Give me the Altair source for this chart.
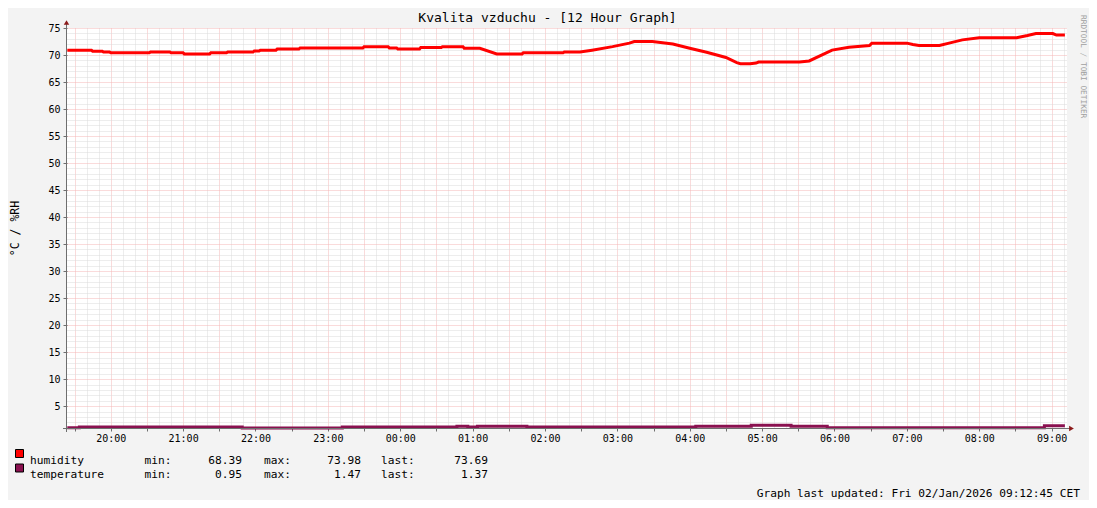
import altair as alt
import pandas as pd
from datetime import datetime, timedelta, timezone

# ---------------- texts ----------------
TITLE = "Kvalita vzduchu - [12 Hour Graph]"
Y_TITLE = "°C / %RH"
WATERMARK = "RRDTOOL / TOBI OETIKER"
FOOTER = "Graph last updated: Fri 02/Jan/2026 09:12:45 CET"

# ---------------- legend ----------------
SERIES = ["humidity", "temperature"]
COLORS = ["#FF0000", "#8A1150"]
STAT_MIN = ["68.39", "0.95"]
STAT_MAX = ["73.98", "1.47"]
STAT_LAST = ["73.69", "1.37"]

# ---------------- data ----------------
HUM_TIMES = ["19:24", "19:44", "19:45", "19:53", "19:54", "19:59", "20:00", "20:32",
             "20:33", "20:49", "20:50", "21:00", "21:01", "21:22", "21:23", "21:36",
             "21:37", "21:58", "21:59", "22:03", "22:04", "22:17", "22:18", "22:36",
             "22:37", "23:29", "23:30", "23:50", "23:51", "23:57", "23:58", "00:16",
             "00:17", "00:34", "00:35", "00:52", "00:53", "01:06", "01:20", "01:41",
             "01:42", "02:15", "02:16", "02:29", "02:39", "02:56", "03:10", "03:14",
             "03:29", "03:46", "04:00", "04:14", "04:30", "04:39", "04:42", "04:50",
             "04:55", "04:57", "05:31", "05:39", "05:58", "06:12", "06:29", "06:31",
             "07:00", "07:05", "07:10", "07:27", "07:35", "07:46", "08:00", "08:31",
             "08:40", "08:47", "09:01", "09:04", "09:11"]
HUM_VALUES = [70.9, 70.9, 70.7, 70.7, 70.55, 70.55, 70.4, 70.4,
              70.55, 70.55, 70.4, 70.4, 70.2, 70.2, 70.4, 70.4,
              70.55, 70.55, 70.75, 70.75, 70.9, 70.9, 71.1, 71.1,
              71.3, 71.3, 71.55, 71.55, 71.3, 71.3, 71.1, 71.1,
              71.4, 71.4, 71.55, 71.55, 71.25, 71.25, 70.2, 70.2,
              70.4, 70.4, 70.55, 70.55, 70.9, 71.55, 72.2, 72.5,
              72.5, 72.05, 71.25, 70.5, 69.55, 68.6, 68.39, 68.39,
              68.5, 68.7, 68.7, 68.9, 70.9, 71.45, 71.75, 72.2,
              72.2, 71.95, 71.75, 71.75, 72.2, 72.8, 73.2, 73.2,
              73.6, 73.98, 73.98, 73.69, 73.69]

TEMP_TIMES = ["19:24", "19:34", "21:49", "23:12", "00:47", "00:56", "01:04", "01:45",
              "04:05", "04:51", "05:24", "05:54", "08:54", "09:11"]
TEMP_VALUES = [1.0, 1.14, 0.95, 1.14, 1.28, 1.14, 1.28, 1.12,
               1.28, 1.47, 1.28, 1.0, 1.37, 1.37]

Y_DOMAIN = [0.95, 75]
FONT = "DejaVu Sans Mono"


def iso(hhmm):
    h = int(hhmm[:2])
    day = 1 if h >= 12 else 2
    return f"2026-01-0{day}T{hhmm}:00Z"


def ms(dt):
    return int(dt.timestamp() * 1000)


X_START = datetime(2026, 1, 1, 19, 23, 45, tzinfo=timezone.utc)
X_END = datetime(2026, 1, 2, 9, 12, 45, tzinfo=timezone.utc)
tick0 = datetime(2026, 1, 1, 19, 30, tzinfo=timezone.utc)
X_TICKS = [ms(tick0 + timedelta(minutes=10 * i)) for i in range(83)]
Y_TICKS = list(range(1, 76))

hum = pd.DataFrame({"t": [iso(t) for t in HUM_TIMES], "v": HUM_VALUES})
temp = pd.DataFrame({"t": [iso(t) for t in TEMP_TIMES], "v": TEMP_VALUES})

MAJ_GRID = "#F5B6B6"
MIN_GRID = "#DADADA"
AXIS_COL = "#6E6E6E"
ARROW_COL = "#8B1A1A"

x_axis = alt.Axis(
    values=X_TICKS, title=None, domain=False,
    labelExpr="utcminutes(datum.value) === 0 ? utcFormat(datum.value, '%H:%M') : ''",
    labelFont=FONT, labelFontSize=10, labelColor="#000000", labelPadding=2,
    labelFlush=False, labelOverlap=False, labelBound=False,
    tickSize=3, tickColor=AXIS_COL,
    tickOpacity={"condition": {"test": "utcminutes(datum.value) % 30 === 0", "value": 1}, "value": 0},
    grid=True,
    gridColor={"condition": {"test": "utcminutes(datum.value) % 30 === 0", "value": MAJ_GRID}, "value": MIN_GRID},
    gridDash=[1, 1], gridWidth=1,
)

y_axis = alt.Axis(
    values=Y_TICKS, title=Y_TITLE, domain=False,
    labelExpr="datum.value % 5 === 0 ? datum.label : ''",
    labelFont=FONT, labelFontSize=10, labelColor="#000000", labelPadding=3,
    labelOverlap=False, labelBound=False, labelFlush=False,
    tickSize=4, tickColor=AXIS_COL,
    tickOpacity={"condition": {"test": "datum.value % 5 === 0", "value": 1}, "value": 0},
    grid=True,
    gridColor={"condition": {"test": "datum.value % 5 === 0", "value": MAJ_GRID}, "value": MIN_GRID},
    gridDash=[1, 1], gridWidth=1,
    titleFont=FONT, titleFontSize=11.5, titleFontWeight="normal", titleColor="#000000",
    titleX=-52, titleY=200, titleAngle=270, titleAlign="center", titleBaseline="middle",
)

x_enc = alt.X("t:T", scale=alt.Scale(type="utc", domain=[ms(X_START), ms(X_END)]), axis=x_axis)
y_enc = alt.Y("v:Q", scale=alt.Scale(domain=Y_DOMAIN, nice=False, zero=False), axis=y_axis)

hum_line = alt.Chart(hum).mark_line(color=COLORS[0], strokeWidth=3, interpolate="linear").encode(x=x_enc, y=y_enc)
temp_line = alt.Chart(temp).mark_line(color=COLORS[1], strokeWidth=3, interpolate="step-after").encode(x=x_enc, y=y_enc)


def text_layer(text, x, y, align="left", size=11.2, color="#000000", angle=0, baseline="middle"):
    return alt.Chart(pd.DataFrame({"s": [text]})).mark_text(
        align=align, baseline=baseline, font=FONT, fontSize=size, color=color,
        angle=angle, lineBreak="\n", lineHeight=14,
    ).encode(x=alt.value(x), y=alt.value(y), text="s:N")


one = pd.DataFrame({"k": [0]})
x_axis_line = alt.Chart(one).mark_rule(color=AXIS_COL, strokeWidth=1).encode(
    x=alt.value(-4), x2=alt.value(1004), y=alt.value(400.5))
y_axis_line = alt.Chart(one).mark_rule(color=AXIS_COL, strokeWidth=1).encode(
    x=alt.value(-0.5), y=alt.value(-5), y2=alt.value(404))
arrow_up = alt.Chart(one).mark_point(shape="triangle-up", filled=True, size=30, color=ARROW_COL, opacity=1).encode(
    x=alt.value(-0.5), y=alt.value(-5.5))
arrow_right = alt.Chart(one).mark_point(shape="triangle-right", filled=True, size=30, color=ARROW_COL, opacity=1).encode(
    x=alt.value(1004.5), y=alt.value(400.5))

layers = [hum_line, temp_line, x_axis_line, y_axis_line, arrow_up, arrow_right]

# title, watermark, footer
layers.append(text_layer(TITLE, 480.5, -10, align="center", size=13))
layers.append(text_layer(WATERMARK, 1015.5, -13, align="left", size=7.8, color="#A0A0A0", angle=90))
layers.append(text_layer(FOOTER, 1013, 466, align="right"))

# legend
legend_cols = [
    ("\n".join(SERIES), -37, "left"),
    ("\n".join(["min:"] * 2), 77.6, "left"),
    ("\n".join(STAT_MIN), 175, "right"),
    ("\n".join(["max:"] * 2), 197, "left"),
    ("\n".join(STAT_MAX), 294, "right"),
    ("\n".join(["last:"] * 2), 314, "left"),
    ("\n".join(STAT_LAST), 421, "right"),
]
for txt, x, al in legend_cols:
    layers.append(text_layer(txt, x, 433, align=al))

for i, col in enumerate(COLORS):
    layers.append(alt.Chart(one).mark_square(size=64, fill=col, stroke="#000000", strokeWidth=1, opacity=1).encode(
        x=alt.value(-47.5), y=alt.value(425.5 + 14.5 * i)))

chart = alt.layer(*layers).properties(
    width=1000, height=400,
    autosize=alt.AutoSizeParams(type="none"),
    padding={"left": 59, "top": 20, "right": 22, "bottom": 72},
    background="#F3F3F3",
).configure_view(fill="#FFFFFF", stroke=None)

chart.save("out.html", embed_options={"renderer": "svg", "actions": False})
